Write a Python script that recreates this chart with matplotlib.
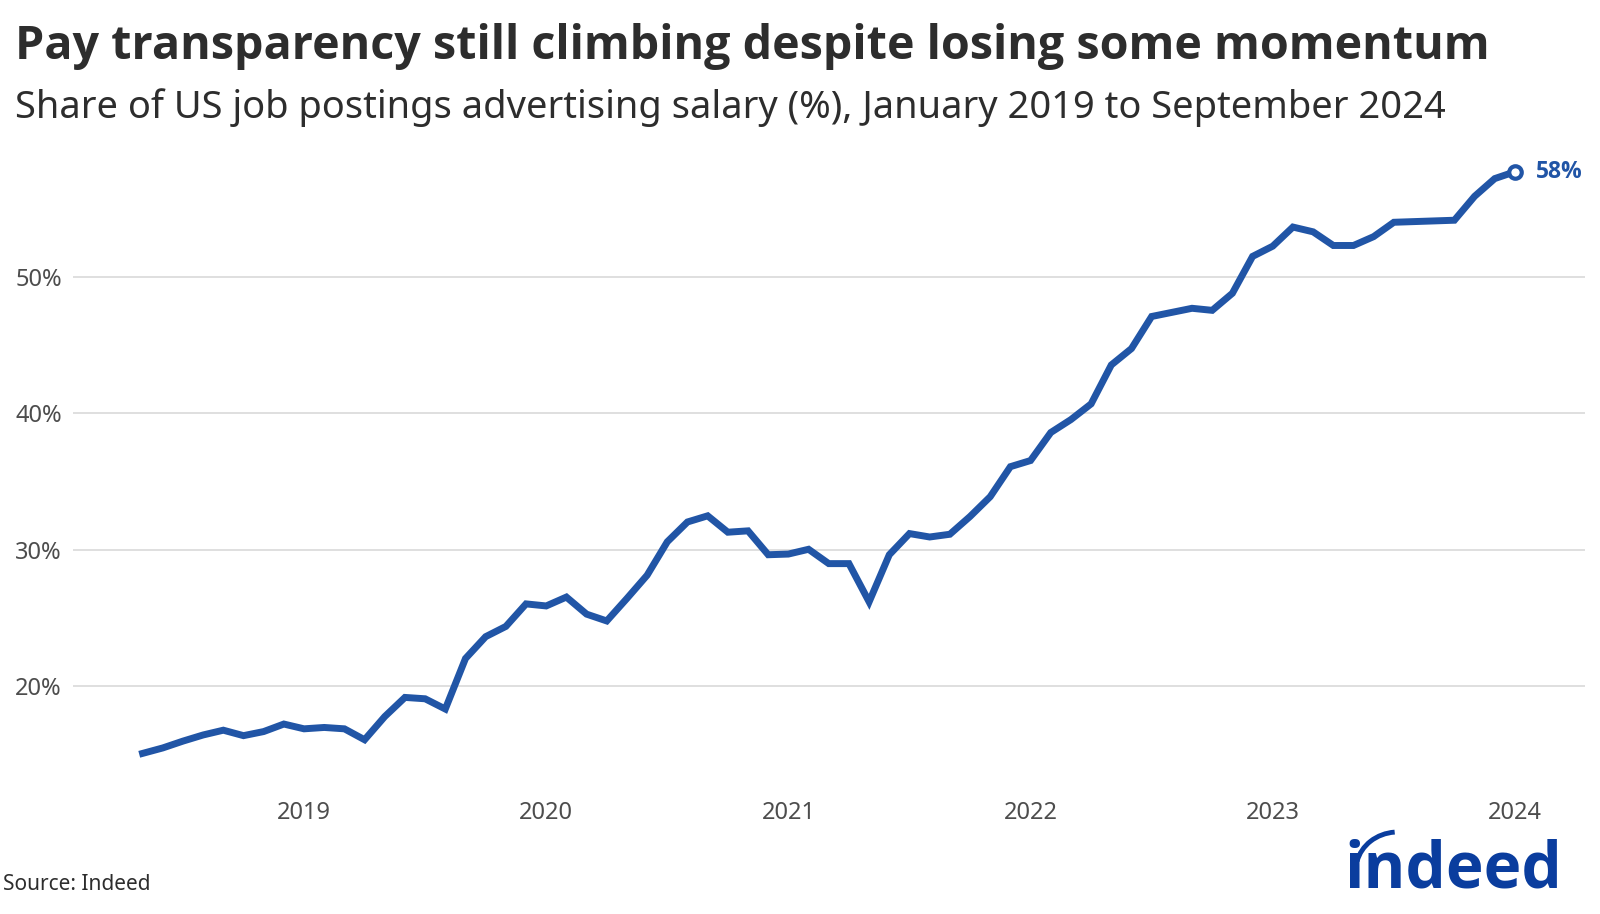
import matplotlib.pyplot as plt
from matplotlib.patches import Arc
from matplotlib.transforms import IdentityTransform

plt.rcParams['font.family'] = ['Noto Sans', 'DejaVu Sans']
bold_font = ['Open Sans', 'DejaVu Sans']

# monthly share of postings with salary, Jan 2019 .. Sep 2024
months = list(range(69))
share = [15.1, 15.5, 16.0, 16.45, 16.8, 16.4, 16.7, 17.25, 16.9, 17.0,
         16.9, 16.1, 17.8, 19.2, 19.1, 18.35, 22.05, 23.65, 24.4, 26.05,
         25.9, 26.55, 25.3, 24.8, 26.45, 28.15, 30.6, 32.05, 32.5, 31.3,
         31.4, 29.65, 29.7, 30.05, 29.0, 29.0, 26.2, 29.65, 31.2, 30.95,
         31.15, 32.45, 33.9, 36.1, 36.55, 38.6, 39.55, 40.7, 43.55, 44.75,
         47.1, 47.4, 47.7, 47.55, 48.8, 51.5, 52.25, 53.65, 53.3, 52.3,
         52.3, 52.95, 54.0, 54.05, 54.1, 54.15, 55.9, 57.2, 57.7]

tick_pos = [8, 20, 32, 44, 56, 68]
tick_labels = ['2019', '2020', '2021', '2022', '2023', '2024']
y_ticks = [20, 30, 40, 50]

blue = '#2155a6'
logo_blue = '#0a3d9e'

fig = plt.figure(figsize=(16, 9.14), dpi=100)
ax = fig.add_axes([0.0456, 0.1294, 0.945, 0.7021])

ax.plot(months, share, color=blue, lw=5, solid_joinstyle='miter', zorder=3)
ax.plot(months[-1], share[-1], 'o', ms=9, mfc='white', mec=blue, mew=3, zorder=4)
ax.annotate('%.0f%%' % share[-1], (months[-1], share[-1]), xytext=(15, 0),
            textcoords='offset points', va='center', ha='left',
            fontsize=16.5, fontweight='bold', family=bold_font, color=blue)

ax.set_xlim(-3.45, 71.47)
ax.set_ylim(12, 59)
ax.set_xticks(tick_pos, tick_labels)
ax.set_yticks(y_ticks, ['%d%%' % v for v in y_ticks])
ax.grid(axis='y', color='#d9d9d9', lw=1.2)
ax.set_axisbelow(True)
for s in ax.spines.values():
    s.set_visible(False)
ax.tick_params(length=0, labelsize=17, labelcolor='#4d4d4d')
ax.tick_params(axis='y', pad=8)
ax.tick_params(axis='x', pad=4)

fig.text(0.0095, 0.949, 'Pay transparency still climbing despite losing some momentum',
         fontsize=33.6, fontweight='bold', family=bold_font, color='#2d2d2d', va='center')
fig.text(0.0095, 0.882, 'Share of US job postings advertising salary (%), January 2019 to September 2024',
         fontsize=27.4, color='#2d2d2d', va='center')
fig.text(0.002, 0.032, 'Source: Indeed', fontsize=15, color='#2d2d2d', va='center')

# logo
fig.text(0.9765, 0.047, 'indeed', fontsize=46, fontweight='bold', family=bold_font,
         color=logo_blue, ha='right', va='center')
fig.add_artist(Arc((1398, 44), 84, 76, theta1=95, theta2=168, lw=3.5,
                   color=logo_blue, transform=IdentityTransform()))

fig.savefig('out.png', dpi=100)
